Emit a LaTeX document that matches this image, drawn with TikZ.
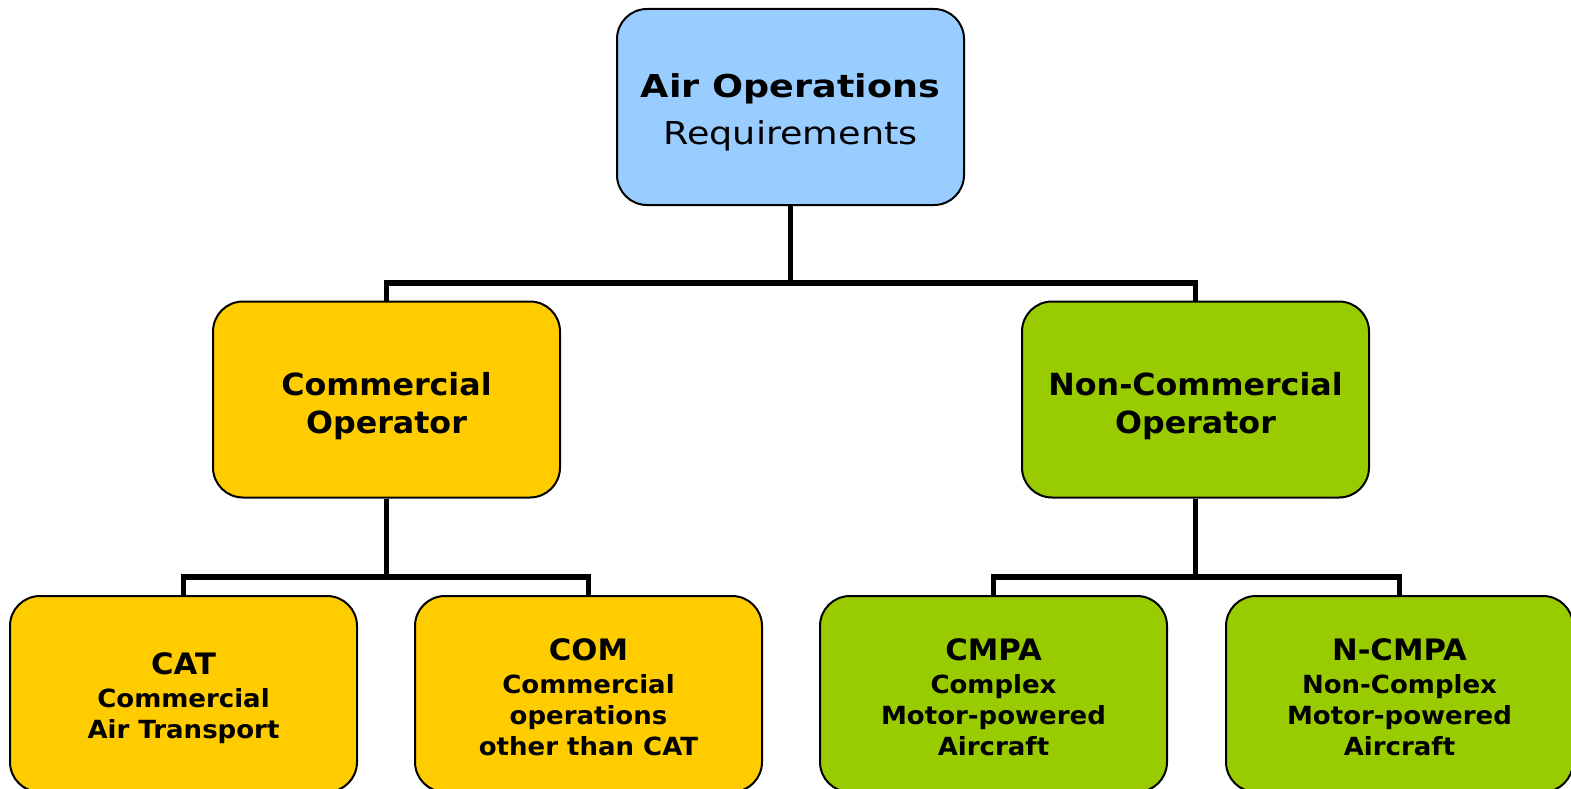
\documentclass[tikz,border=0pt]{standalone}
\usepackage{fontspec}
\newfontfamily\fa[FakeStretch=1.16]{DejaVu Sans}
\newfontfamily\fb[FakeStretch=1.04]{DejaVu Sans}
\definecolor{boxblue}{HTML}{99CCFF}
\definecolor{boxgold}{HTML}{FFCC00}
\definecolor{boxgreen}{HTML}{99CC00}
\tikzset{
  box/.style={draw=black, line width=2pt, rounded corners=30pt, minimum width=347pt, minimum height=196pt, inner sep=0pt},
  toptext/.style={anchor=north, align=center, inner sep=0pt, font=\fa\fontsize{31.5}{46.7}\selectfont},
  midtext/.style={anchor=north, align=center, inner sep=0pt, font=\fb\fontsize{30.5}{38.3}\selectfont\bfseries},
  lowtext/.style={anchor=north, align=center, inner sep=0pt, font=\fb\fontsize{25}{31}\selectfont\bfseries},
  conn/.style={draw=black, line width=5.8pt}
}
\newcommand{\ttl}[1]{{\fontsize{29.5}{31}\selectfont #1}\\[2pt]}
\begin{document}
\begin{tikzpicture}[x=1pt,y=-1pt]
\clip (0,0) rectangle (1571,789);
\fill[white] (0,0) rectangle (1571,789);
\coordinate (j1) at (790.5,283);
\coordinate (j2) at (386.5,577);
\coordinate (j3) at (1195.5,577);
% boxes
\node[box, fill=boxblue] (top) at (790.5,107) {};
\node[box, fill=boxgold] (com) at (386.5,399.5) {};
\node[box, fill=boxgreen] (ncom) at (1195.5,399.5) {};
\node[box, fill=boxgold] (cat) at (183.5,694) {};
\node[box, fill=boxgold] (comop) at (588.5,694) {};
\node[box, fill=boxgreen] (cmpa) at (993.5,694) {};
\node[box, fill=boxgreen] (ncmpa) at (1399.5,694) {};
% texts
\node[toptext] (topt) at (790.5,73.4) {\bfseries Air Operations\\Requirements};
\node[midtext] (comt) at (386.5,371.8) {Commercial\ \\Operator};
\node[midtext] (ncomt) at (1195.5,371.8) {Non-Commercial\\Operator};
\node[lowtext] (catt) at (183.5,652.8) {\ttl{CAT}Commercial\ \\Air Transport};
\node[lowtext] (comopt) at (588.5,638.1) {\ttl{COM}Commercial\ \\operations\ \\other than CAT};
\node[lowtext] (cmpat) at (993.5,638.1) {\ttl{CMPA}Complex\ \\Motor-powered\\Aircraft};
\node[lowtext] (ncmpat) at (1399.5,638.1) {\ttl{N-CMPA}Non-Complex\ \\Motor-powered\\Aircraft};
% connectors
\draw[conn] (top.south) -- (j1);
\draw[conn] (j1) -| (com.north);
\draw[conn] (j1) -| (ncom.north);
\draw[conn] (com.south) -- (j2);
\draw[conn] (j2) -| (cat.north);
\draw[conn] (j2) -| (comop.north);
\draw[conn] (ncom.south) -- (j3);
\draw[conn] (j3) -| (cmpa.north);
\draw[conn] (j3) -| (ncmpa.north);
\end{tikzpicture}
\end{document}
